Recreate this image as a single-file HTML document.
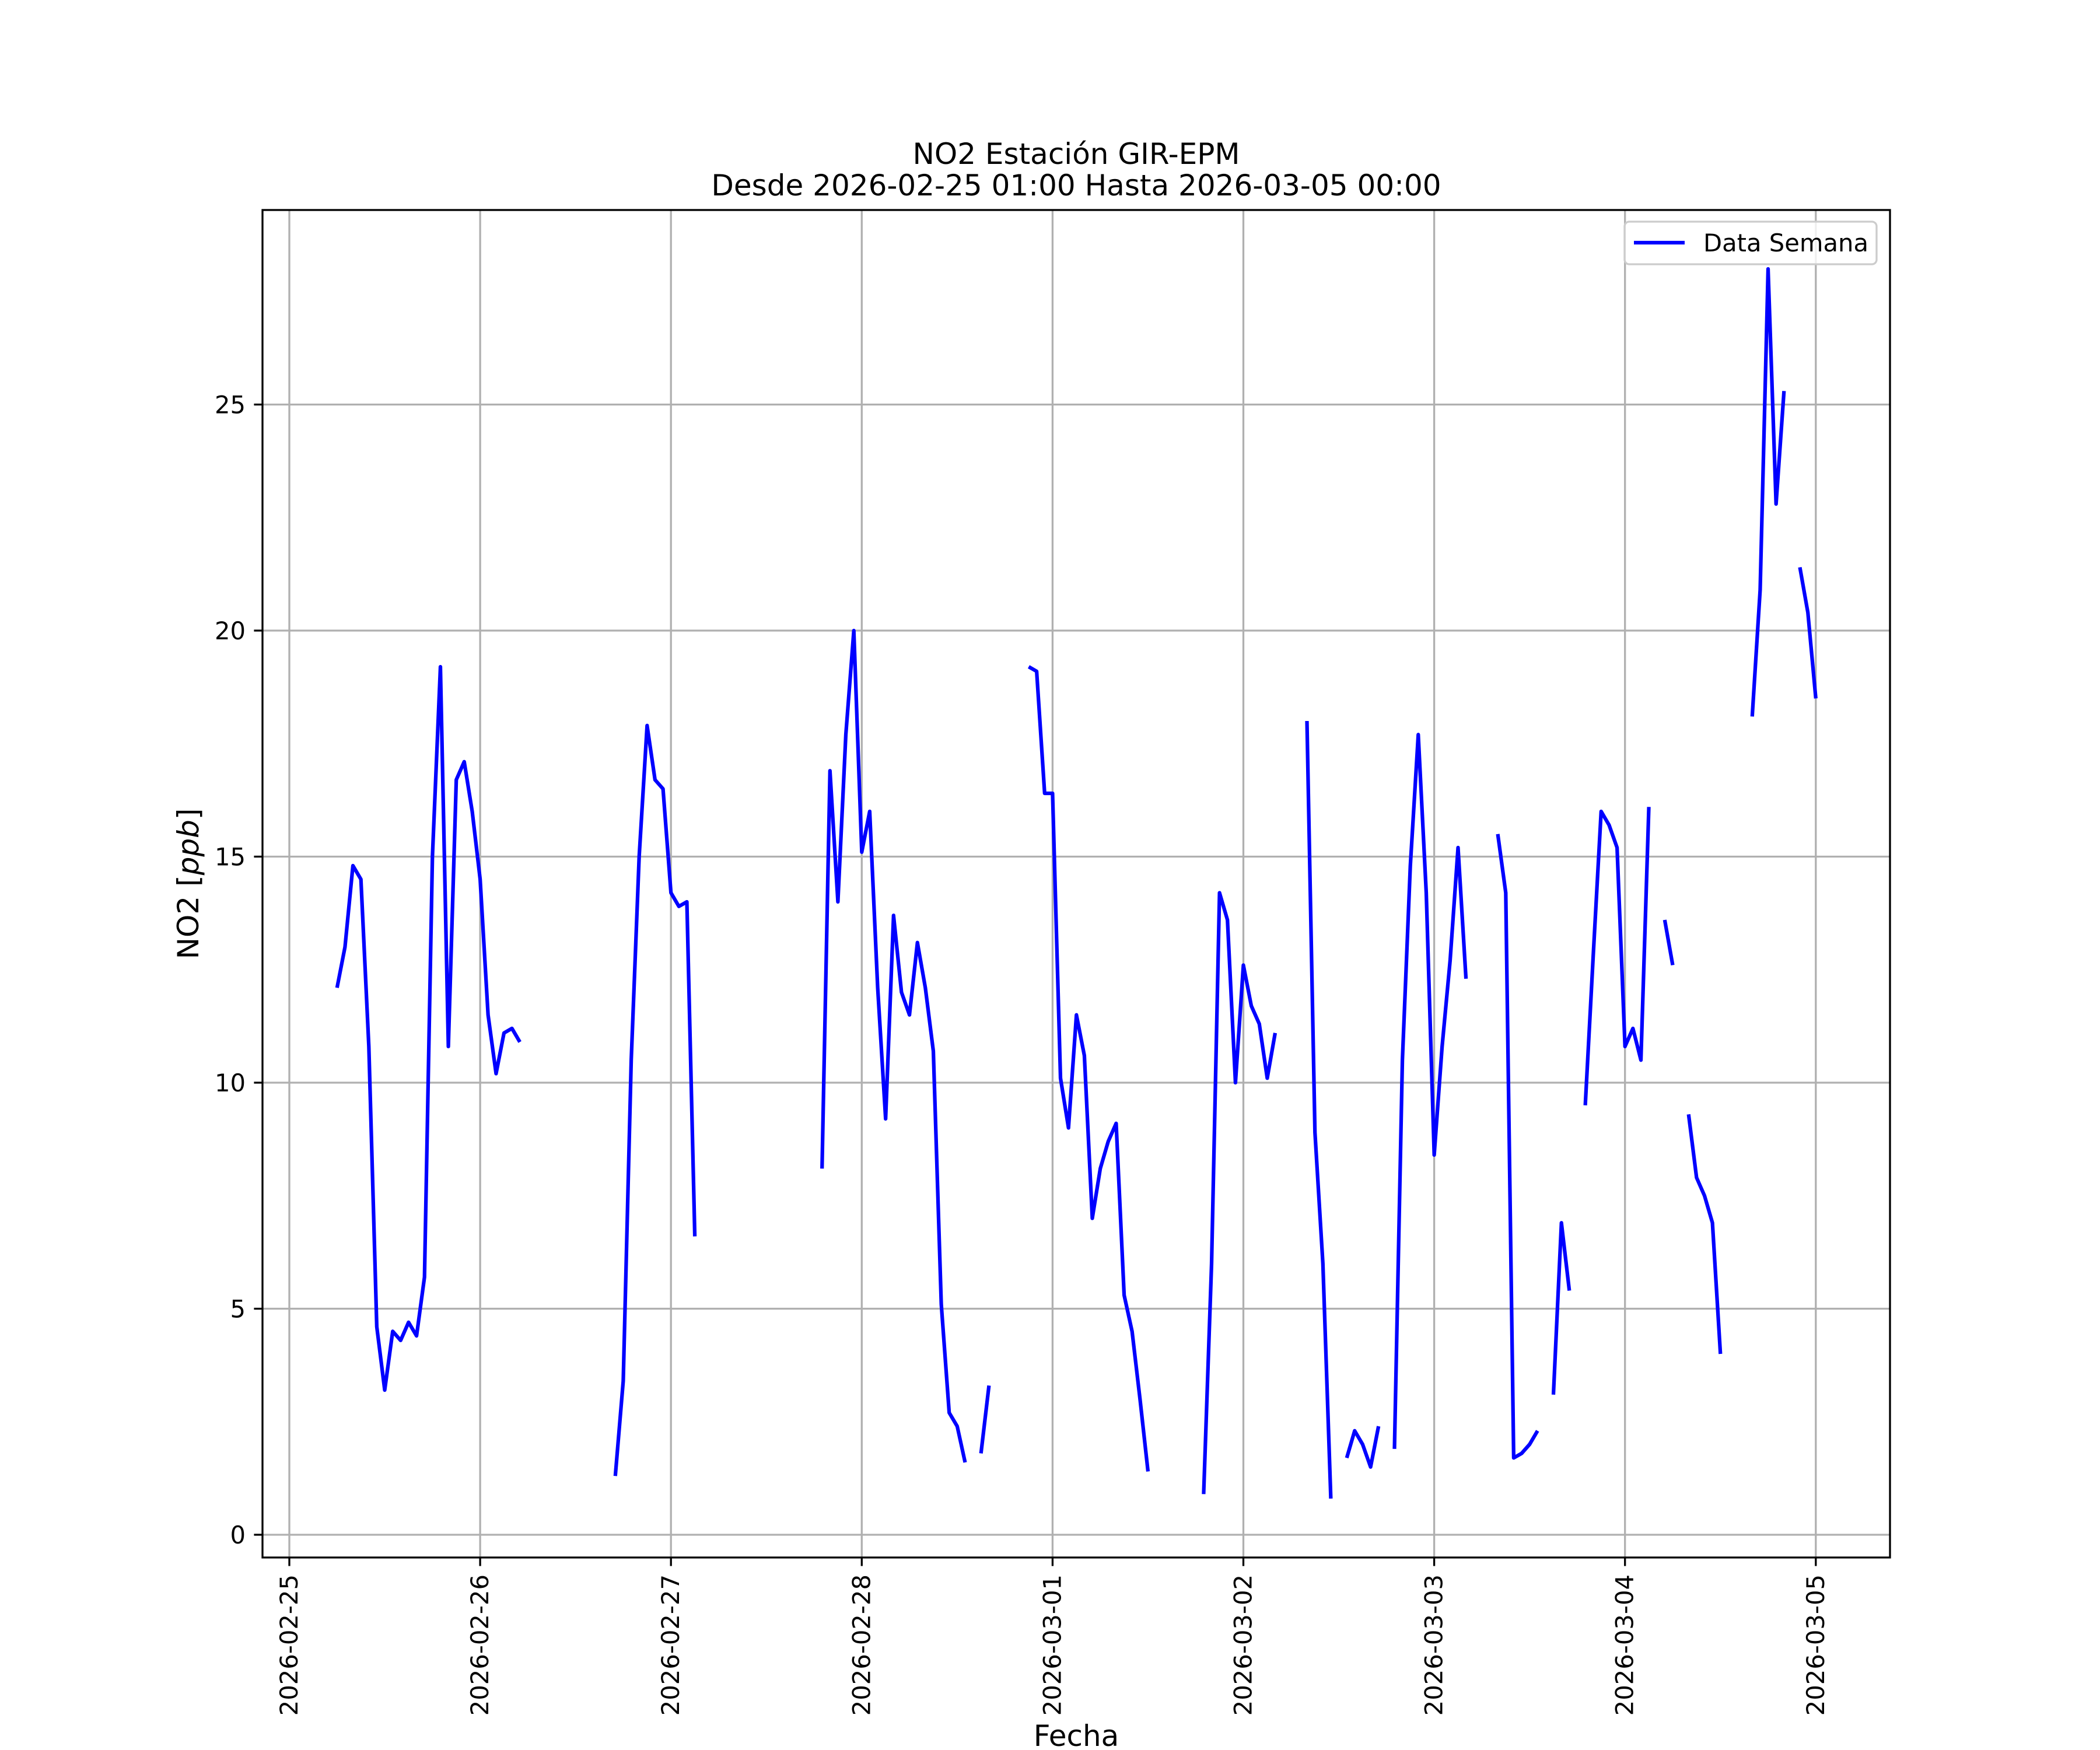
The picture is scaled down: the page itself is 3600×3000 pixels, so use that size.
<!DOCTYPE html>
<html><head><meta charset="utf-8">
<style>html,body{margin:0;padding:0;background:#fff}svg{display:block}</style></head>
<body>
<svg id="chart" width="3600" height="3000" viewBox="0 0 3600 3000" xmlns="http://www.w3.org/2000/svg" font-family="'DejaVu Sans','Liberation Sans',sans-serif"></svg>
<script>
const N = null;
// hourly NO2 values starting 2026-02-25 00:00 (hour index 0)
const values = [
N,N,N,N,N,N,
12.1,13.0,14.8,14.5,10.8,4.6,3.2,4.5,4.3,4.7,4.4,5.7,15.0,19.2,10.8,16.7,17.1,16.0,14.5,11.5,10.2,11.1,11.2,10.9,
N,N,N,N,N,N,N,N,N,N,N,
1.3,3.4,10.5,15.0,17.9,16.7,16.5,14.2,13.9,14.0,6.6,
N,N,N,N,N,N,N,N,N,N,N,N,N,N,N,
8.1,16.9,14.0,17.7,20.0,15.1,16.0,12.1,9.2,13.7,12.0,11.5,13.1,12.1,10.7,5.1,2.7,2.4,1.6,
N,
1.8,3.3,
N,N,N,N,
19.2,19.1,16.4,16.4,10.1,9.0,11.5,10.6,7.0,8.1,8.7,9.1,5.3,4.5,3.0,1.4,
N,N,N,N,N,N,
0.9,6.0,14.2,13.6,10.0,12.6,11.7,11.3,10.1,11.1,
N,N,N,
18.0,8.9,6.0,0.8,
N,
1.7,2.3,2.0,1.5,2.4,
N,
1.9,10.5,14.8,17.7,14.2,8.4,10.8,12.7,15.2,12.3,
N,N,N,
15.5,14.2,1.7,1.8,2.0,2.3,
N,
3.1,6.9,5.4,
N,
9.5,12.8,16.0,15.7,15.2,10.8,11.2,10.5,16.1,
N,
13.6,12.6,
N,
9.3,7.9,7.5,6.9,4.0,
N,N,N,
18.1,20.9,28.0,22.8,25.3,
N,
21.4,20.4,18.5
];
const xTickLabels = ["2026-02-25","2026-02-26","2026-02-27","2026-02-28","2026-03-01","2026-03-02","2026-03-03","2026-03-04","2026-03-05"];
const yTicks = [0,5,10,15,20,25];

const L=450,R=3240,T=360,B=2670;
const X0=496, PX_PER_DAY=327.1;
const Y0=2631, PX_PER_UNIT=77.5;
const xScale = d => X0 + d*PX_PER_DAY;
const yScale = v => Y0 - v*PX_PER_UNIT;
const ns="http://www.w3.org/2000/svg";
const svg=document.getElementById('chart');
function mk(tag, attrs, parent){const e=document.createElementNS(ns,tag);for(const k in attrs)e.setAttribute(k,attrs[k]);(parent||svg).appendChild(e);return e;}

// grid
const grid=mk('g',{});


xTickLabels.forEach((t,i)=>{const x=xScale(i);
  const gl=mk('line',{x1:x,x2:x,y1:T,y2:B,stroke:'#b0b0b0','stroke-width':3.3},grid);
  
  
});
yTicks.forEach(v=>{const y=yScale(v);
  const gl=mk('line',{x1:L,x2:R,y1:y,y2:y,stroke:'#b0b0b0','stroke-width':3.3},grid);
  
  
});

// series
const series=mk('g',{});


let seg=[];
function flush(){ if(seg.length>1){
  const p=mk('polyline',{points:seg.join(' '),fill:'none',stroke:'#0000ff','stroke-width':6.25,'stroke-linejoin':'round','stroke-linecap':'butt'},series);
  
  
 } seg=[]; }
values.forEach((v,h)=>{ if(v===null){flush();} else seg.push(xScale(h/24).toFixed(1)+','+yScale(v).toFixed(1)); });
flush();

// axes frame
const frame=mk('rect',{x:L,y:T,width:R-L,height:B-T,fill:'none',stroke:'#000','stroke-width':3.3});



// x ticks
xTickLabels.forEach((t,i)=>{const x=xScale(i);
  const tk=mk('line',{x1:x,x2:x,y1:B,y2:B+14.6,stroke:'#000','stroke-width':3.3});
  
  
  const tx=mk('text',{x:0,y:0,transform:`translate(${x+14},${B+29}) rotate(-90)`,'text-anchor':'end','font-size':41.7,fill:'#000'});
  tx.textContent=t;
  
  
});
// y ticks
yTicks.forEach(v=>{const y=yScale(v);
  const tk=mk('line',{x1:L-14.6,x2:L,y1:y,y2:y,stroke:'#000','stroke-width':3.3});
  
  
  const tx=mk('text',{x:L-29,y:y+15,'text-anchor':'end','font-size':41.7,fill:'#000'});
  tx.textContent=String(v);
  
  
});

// titles
const t1=mk('text',{x:(L+R)/2,y:281,'text-anchor':'middle','font-size':50,fill:'#000'});
t1.textContent='NO2 Estación GIR-EPM';


const t2=mk('text',{x:(L+R)/2,y:335,'text-anchor':'middle','font-size':50,fill:'#000'});
t2.textContent='Desde 2026-02-25 01:00 Hasta 2026-03-05 00:00';


const xl=mk('text',{x:(L+R)/2,y:2993,'text-anchor':'middle','font-size':50,fill:'#000'});
xl.textContent='Fecha';


const yl=mk('text',{x:0,y:0,transform:`translate(340,${(T+B)/2}) rotate(-90)`,'text-anchor':'middle','font-size':50,fill:'#000'});
yl.innerHTML='NO2 [<tspan font-style="italic">ppb</tspan>]';



// legend
const lg=mk('g',{});


const lb=mk('rect',{x:2785,y:380,width:432,height:73,rx:8,fill:'#fff','fill-opacity':0.8,stroke:'#cccccc','stroke-width':3.3},lg);


const ll=mk('line',{x1:2801,x2:2888,y1:416,y2:416,stroke:'#0000ff','stroke-width':6.25},lg);


const lt=mk('text',{x:2920,y:431,'font-size':41.7,fill:'#000'},lg);
lt.textContent='Data Semana';


</script>
</body></html>
